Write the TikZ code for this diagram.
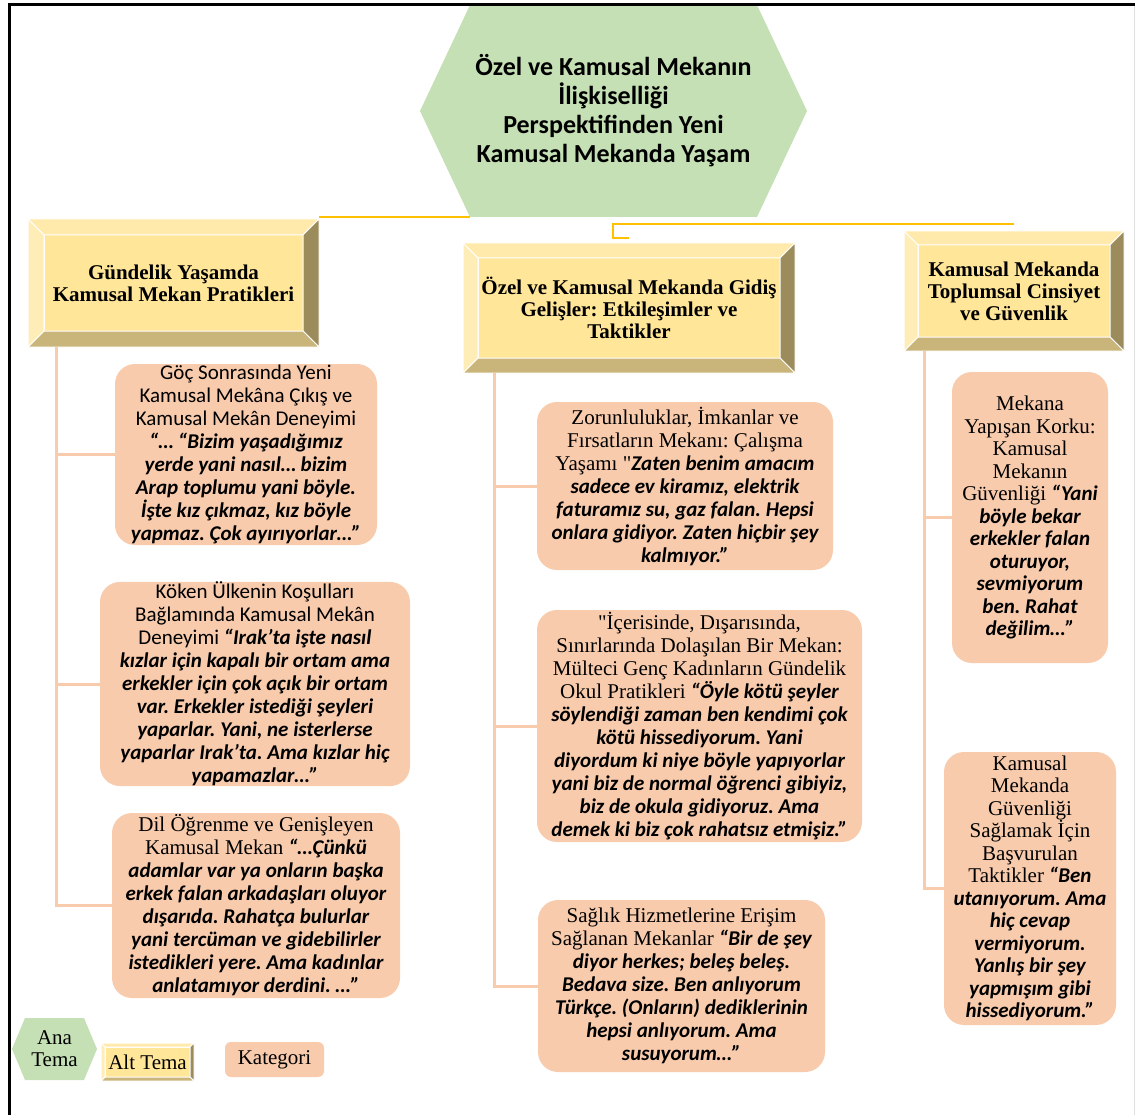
\documentclass[tikz,border=0pt]{standalone}
\usepackage{fontspec}
\setmainfont{Liberation Serif}
\newfontfamily\carl{Carlito}
\newfontfamily\plainser{Liberation Serif}[Ligatures=TeXOff]
\usetikzlibrary{backgrounds}
\definecolor{hexfill}{HTML}{C5E0B4}
\definecolor{facefill}{HTML}{FFE699}
\definecolor{bevtopcol}{HTML}{FFEAAB}
\definecolor{bevleftcol}{HTML}{FFEDB8}
\definecolor{bevrightcol}{HTML}{9C8B5B}
\definecolor{bevbotcol}{HTML}{C9B47A}
\definecolor{catfill}{HTML}{F8CBAD}
\definecolor{tiecol}{HTML}{FFC000}
\frenchspacing
\newcommand{\nf}{\carl\mdseries\upshape}
\newcommand{\tf}{\rmfamily\mdseries\upshape}
\newcommand{\qf}{\carl\bfseries\itshape}
\newcommand{\sq}{{\plainser"}}
\tikzset{basic/.style={align=center,inner sep=0pt,outer sep=0pt}}
\tikzset{boxdim/.style 2 args={minimum width=#1pt,minimum height=#2pt}}
\tikzset{theme/.style={basic,font=\carl\bfseries\fontsize{26}{29}\selectfont}}
\tikzset{subtheme/.style={basic,fill=facefill,draw=white,line width=1pt,
                          font=\bfseries\fontsize{21}{22}\selectfont}}
\tikzset{category/.style={basic,fill=catfill,rounded corners=20pt,
                          font=\fontsize{21}{23}\selectfont}}
\tikzset{narrow/.style={font=\fontsize{21}{22.5}\selectfont}}
\tikzset{legend/.style={basic,font=\fontsize{21}{22}\selectfont}}
\tikzset{bevel/.style={draw=white,line width=1pt}}
\tikzset{tie/.style={draw=tiecol,line width=2.5pt}}
\tikzset{stem/.style={draw=catfill,line width=3pt}}
\newcommand{\bevelframe}[2]{%
  \coordinate (#1 onw) at ([shift={(-#2pt,#2pt)}]#1.north west);
  \coordinate (#1 one) at ([shift={(#2pt,#2pt)}]#1.north east);
  \coordinate (#1 ose) at ([shift={(#2pt,-#2pt)}]#1.south east);
  \coordinate (#1 osw) at ([shift={(-#2pt,-#2pt)}]#1.south west);
  \filldraw[bevel,fill=bevtopcol] (#1 onw) -- (#1 one) -- (#1.north east) -- (#1.north west) -- cycle;
  \filldraw[bevel,fill=bevrightcol] (#1 one) -- (#1 ose) -- (#1.south east) -- (#1.north east) -- cycle;
  \filldraw[bevel,fill=bevbotcol] (#1 ose) -- (#1 osw) -- (#1.south west) -- (#1.south east) -- cycle;
  \filldraw[bevel,fill=bevleftcol] (#1 osw) -- (#1 onw) -- (#1.north west) -- (#1.south west) -- cycle;}
\newcommand{\hexback}[2]{%
  \fill[hexfill] ([xshift=#2pt]#1.north west) -- ([xshift=-#2pt]#1.north east) -- (#1.east)
     -- ([xshift=-#2pt]#1.south east) -- ([xshift=#2pt]#1.south west) -- (#1.west) -- cycle;}

\begin{document}
\begin{tikzpicture}[x=1pt,y=-1pt]
    \useasboundingbox (0,0) rectangle (1135,1115);
    % frame
    \draw[gray!25,line width=1pt] (1134,5) -- (1134,1115);
    \draw[line width=3pt] (1135,5) -- (9,5) -- (9,1115);

    \node[theme,boxdim={387}{212}] (main) at (613.5,111)
         {Özel ve Kamusal Mekanın\\İlişkiselliği\\Perspektifinden Yeni\\Kamusal Mekanda Yaşam};

    \node[subtheme,boxdim={259}{96}] (sub1) at (173.5,283)
         {Gündelik Yaşamda\\Kamusal Mekan Pratikleri};
    \node[subtheme,boxdim={302}{100}] (sub2) at (629,308)
         {Özel ve Kamusal Mekanda Gidiş\\Gelişler: Etkileşimler ve\\Taktikler};
    \node[subtheme,boxdim={192}{92}] (sub3) at (1014,291)
         {Kamusal Mekanda\\Toplumsal Cinsiyet\\ve Güvenlik};
    \bevelframe{sub1}{16}
    \bevelframe{sub2}{15}
    \bevelframe{sub3}{14}

    \node[category,boxdim={262}{181}] (cat1) at (246,454.5)
         {\nf Göç Sonrasında Yeni\\
          \nf Kamusal Mekâna Çıkış ve\\
          \nf Kamusal Mekân Deneyimi\\
          \qf “… “Bizim yaşadığımız\\
          \qf yerde yani nasıl… bizim\\
          \qf Arap toplumu yani böyle.\\
          \qf İşte kız çıkmaz, kız böyle\\
          \qf yapmaz. Çok ayırıyorlar…”};
    \node[category,boxdim={310}{202}] (cat2) at (255,684)
         {\nf Köken Ülkenin Koşulları\\
          \nf Bağlamında Kamusal Mekân\\
          \nf Deneyimi \qf “Irak’ta işte nasıl\\
          \qf kızlar için kapalı bir ortam ama\\
          \qf erkekler için çok açık bir ortam\\
          \qf var. Erkekler istediği şeyleri\\
          \qf yaparlar. Yani, ne isterlerse\\
          \qf yaparlar Irak’ta. Ama kızlar hiç\\
          \qf yapamazlar…”};
    \node[category,boxdim={288}{185}] (cat3) at (256,905.5)
         {\tf Dil Öğrenme ve Genişleyen\\
          \tf Kamusal Mekan \qf “…Çünkü\\
          \qf adamlar var ya onların başka\\
          \qf erkek falan arkadaşları oluyor\\
          \qf dışarıda. Rahatça bulurlar\\
          \qf yani tercüman ve gidebilirler\\
          \qf istedikleri yere. Ama kadınlar\\
          \qf anlatamıyor derdini. …”};

    \node[category,boxdim={296}{168}] (cat4) at (685,486)
         {\tf Zorunluluklar, İmkanlar ve\\
          \tf Fırsatların Mekanı: Çalışma\\
          \tf Yaşamı \sq\qf Zaten benim amacım\\
          \qf sadece ev kiramız, elektrik\\
          \qf faturamız su, gaz falan. Hepsi\\
          \qf onlara gidiyor. Zaten hiçbir şey\\
          \qf kalmıyor.”};
    \node[category,boxdim={325}{232}] (cat5) at (699.5,726)
         {\tf \sq İçerisinde, Dışarısında,\\
          \tf Sınırlarında Dolaşılan Bir Mekan:\\
          \tf Mülteci Genç Kadınların Gündelik\\
          \tf Okul Pratikleri \qf “Öyle kötü şeyler\\
          \qf söylendiği zaman ben kendimi çok\\
          \qf kötü hissediyorum. Yani\\
          \qf diyordum ki niye böyle yapıyorlar\\
          \qf yani biz de normal öğrenci gibiyiz,\\
          \qf biz de okula gidiyoruz. Ama\\
          \qf demek ki biz çok rahatsız etmişiz.”};
    \node[category,boxdim={287}{172}] (cat6) at (681.5,986)
         {\tf Sağlık Hizmetlerine Erişim\\
          \tf Sağlanan Mekanlar \qf “Bir de şey\\
          \qf diyor herkes; beleş beleş.\\
          \qf Bedava size. Ben anlıyorum\\
          \qf Türkçe. (Onların) dediklerinin\\
          \qf hepsi anlıyorum. Ama\\
          \qf susuyorum…”};

    \node[category,narrow,boxdim={156}{291}] (cat7) at (1030,517.5)
         {\tf Mekana\\ \tf Yapışan Korku:\\ \tf Kamusal\\ \tf Mekanın\\
          \tf Güvenliği \qf “Yani\\ \qf böyle bekar\\ \qf erkekler falan\\
          \qf oturuyor,\\ \qf sevmiyorum\\ \qf ben. Rahat\\ \qf değilim…”};
    \node[category,narrow,boxdim={172}{273}] (cat8) at (1030,888.5)
         {\tf Kamusal\\ \tf Mekanda\\ \tf Güvenliği\\ \tf Sağlamak İçin\\
          \tf Başvurulan\\ \tf Taktikler \qf “Ben\\ \qf utanıyorum. Ama\\
          \qf hiç cevap\\ \qf vermiyorum.\\ \qf Yanlış bir şey\\
          \qf yapmışım gibi\\ \qf hissediyorum.”};

    % Legend
    \node[legend,boxdim={85}{62}] (leg1) at (54.5,1049) {Ana\\Tema};
    \node[legend,fill=facefill,draw=white,line width=1pt,boxdim={85}{30}] (leg2) at (147.5,1062) {Alt Tema};
    \bevelframe{leg2}{4}
    \node[legend,fill=catfill,rounded corners=6pt,boxdim={99}{35}] (leg3) at (274.5,1059.5) {Kategori};

    \begin{scope}[on background layer]
      \hexback{main}{50}
      \hexback{leg1}{13}
    \end{scope}

    % connectors
    \coordinate (j) at (613,224);
    \coordinate (k) at ([yshift=5pt]sub2 onw);
    \draw[tie] ([xshift=50pt]main.south west) -- (sub1 one |- main.south);
    \draw[tie] (sub3.north |- j) -- (j) |- (k -| sub2.north);

    \draw[stem] ([xshift=28pt]sub1 osw) |- (cat1.west)
                ([xshift=28pt]sub1 osw) |- (cat2.west)
                ([xshift=28pt]sub1 osw) |- (cat3.west);
    \draw[stem] ([xshift=31pt]sub2 osw) |- (cat4.west)
                ([xshift=31pt]sub2 osw) |- (cat5.west)
                ([xshift=31pt]sub2 osw) |- (cat6.west);
    \draw[stem] ([xshift=20pt]sub3 osw) |- (cat7.west)
                ([xshift=20pt]sub3 osw) |- (cat8.west);
\end{tikzpicture}
\end{document}
